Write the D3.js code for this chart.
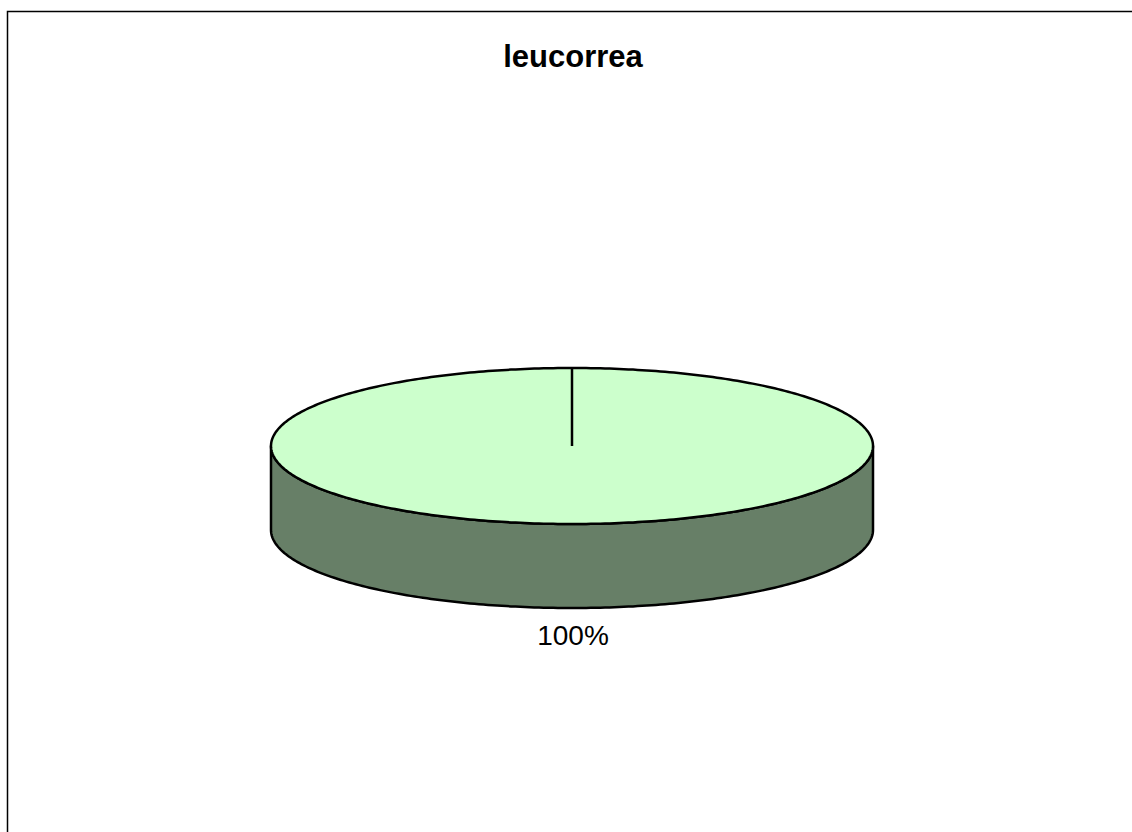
<!DOCTYPE html>
<html>
<head>
<meta charset="utf-8">
<script src="https://cdn.jsdelivr.net/npm/d3@7"></script>
<style>
  html, body { margin: 0; padding: 0; background: #fff; }
  svg { display: block; }
</style>
</head>
<body>
<svg id="chart" width="1132" height="832"></svg>
<script>
// Chart data
const title = "leucorrea";
const categories = ["leucorrea"];
const values = [100];
const topColors = ["#CCFFCC"];
const sideColors = ["#677F67"];

const W = 1132, H = 832;
const svg = d3.select("#chart");

// Outer chart frame
svg.append("rect")
  .attr("x", 7.5).attr("y", 11.5)
  .attr("width", 1140).attr("height", 840)
  .attr("fill", "#fff").attr("stroke", "#000").attr("stroke-width", 1.5);

svg.append("text")
  .attr("x", 573).attr("y", 67)
  .attr("text-anchor", "middle")
  .attr("font-family", "Liberation Sans, Arial, sans-serif")
  .attr("font-weight", "bold")
  .attr("font-size", 31)
  .text(title);

// 3D pie geometry (elliptical projection)
const cx = 572, cy = 446, rx = 301, ry = 78, depth = 84;

const pie = d3.pie().sort(null).value(d => d.value);
const arcs = pie(categories.map((c, i) => ({ name: c, value: values[i], i })));
const total = d3.sum(values);

// Point on the ellipse at a pie angle (0 = top, clockwise)
const px = a => cx + rx * Math.sin(a);
const py = a => cy - ry * Math.cos(a);

function sample(a0, a1, n) {
  const pts = [];
  for (let k = 0; k <= n; k++) {
    const a = a0 + (a1 - a0) * k / n;
    pts.push([px(a), py(a)]);
  }
  return pts;
}

const line = d3.line();
const g = svg.append("g");
const strokeW = 2.5;

// Side walls: only the front half (angles PI/2 .. 3PI/2) is visible
arcs.forEach(d => {
  const a0 = Math.max(d.startAngle, Math.PI / 2);
  const a1 = Math.min(d.endAngle, 3 * Math.PI / 2);
  if (a1 <= a0) return;
  const topEdge = sample(a0, a1, 200);
  const bottomEdge = topEdge.map(([x, y]) => [x, y + depth]).reverse();
  g.append("path")
    .attr("d", line(topEdge.concat(bottomEdge)) + "Z")
    .attr("fill", sideColors[d.data.i])
    .attr("stroke", "#000").attr("stroke-width", strokeW)
    .attr("stroke-linejoin", "round");
});

// Top faces
arcs.forEach(d => {
  const full = d.endAngle - d.startAngle >= 2 * Math.PI - 1e-9;
  const rim = sample(d.startAngle, d.endAngle, 400);
  const path = full ? line(rim) + "Z" : line([[cx, cy]].concat(rim)) + "Z";
  g.append("path")
    .attr("d", path)
    .attr("fill", topColors[d.data.i])
    .attr("stroke", "#000").attr("stroke-width", strokeW)
    .attr("stroke-linejoin", "round");
  // radial edge at the slice start
  g.append("line")
    .attr("x1", cx).attr("y1", cy)
    .attr("x2", px(d.startAngle)).attr("y2", py(d.startAngle))
    .attr("stroke", "#000").attr("stroke-width", strokeW);
});

// Percentage labels outside the slice, at its mid-angle
const pct = d3.format(".0%");
arcs.forEach(d => {
  const mid = (d.startAngle + d.endAngle) / 2;
  const lx = cx + (rx + 10) * Math.sin(mid);
  const below = Math.cos(mid) < 0;
  const ly = cy - (ry + 10) * Math.cos(mid) + (below ? depth + 27 : 0);
  g.append("text")
    .attr("x", lx + 1).attr("y", ly)
    .attr("text-anchor", "middle")
    .attr("font-family", "Liberation Sans, Arial, sans-serif")
    .attr("font-size", 28)
    .text(pct(d.data.value / total));
});
</script>
</body>
</html>
